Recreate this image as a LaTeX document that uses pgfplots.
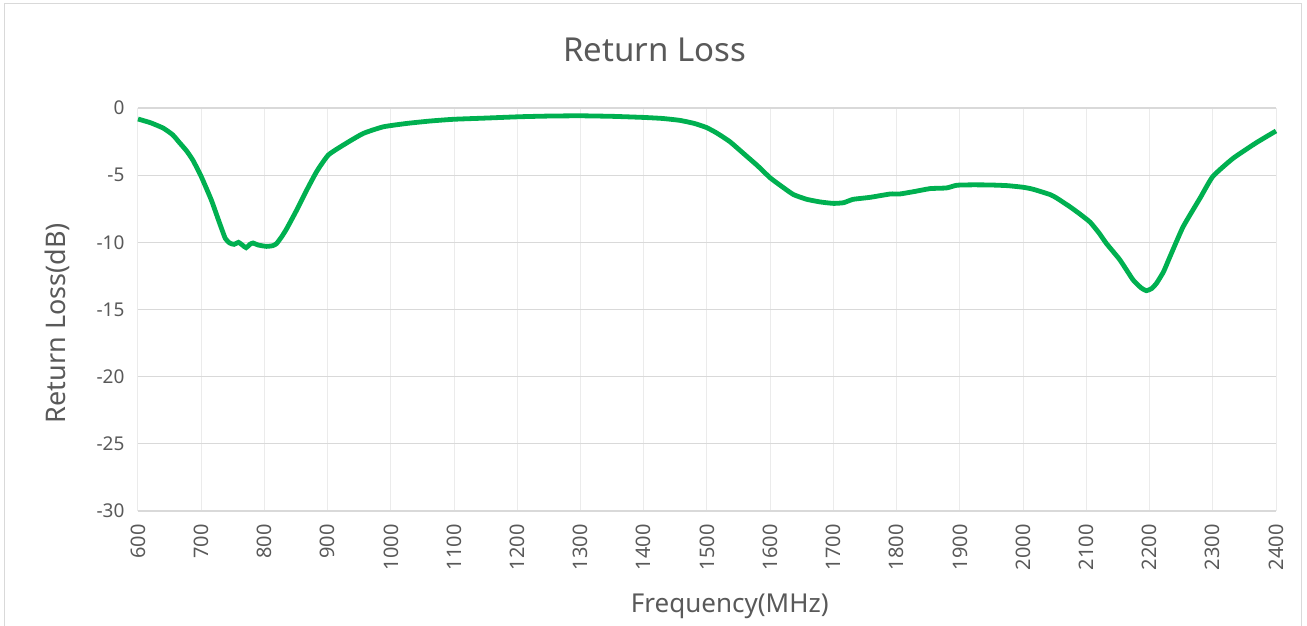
\documentclass[border=0pt]{standalone}
\usepackage{pgfplots}
\pgfplotsset{compat=1.18}
\usepackage{fontspec}
\setmainfont{Noto Sans}
\definecolor{txt}{HTML}{595959}
\definecolor{hgrid}{HTML}{D9D9D9}
\definecolor{vgrid}{HTML}{EBEBEB}
\definecolor{lgreen}{HTML}{00B050}
\begin{document}
\begin{tikzpicture}[x=1pt,y=1pt]
\useasboundingbox (-138,-114) rectangle (1169,511);
\draw[hgrid,line width=1pt] (-133,-130) rectangle (1163,507);
\begin{axis}[
  scale only axis,
  width=1138pt, height=403pt,
  xmin=600, xmax=2400, ymin=-30, ymax=0,
  axis line style={draw=none},
  tick style={draw=none},
  xtick={600,700,...,2400},
  xticklabels={600,700,800,900,1000,1100,1200,1300,1400,1500,1600,1700,1800,1900,2000,2100,2200,2300,2400},
  ytick={-30,-25,-20,-15,-10,-5,0},
  yticklabels={-30,-25,-20,-15,-10,-5,0},
  grid=major,
  x grid style={vgrid,line width=1pt},
  y grid style={hgrid,line width=1.2pt},
  xticklabel shift=10pt,
  xticklabel style={rotate=90,anchor=east,font=\fontsize{20}{20}\selectfont,text=txt},
  yticklabel style={font=\fontsize{19}{19}\selectfont,text=txt,xshift=-10pt},
  clip=false,
]
\addplot[lgreen,line width=4.8pt,smooth,tension=0.3] coordinates {
(600,-0.82) (620,-1.1) (640,-1.5) (655,-2.0) (666,-2.6) (677,-3.2) (687,-3.9)
(700,-5.1) (716,-6.85) (727,-8.3) (738,-9.7) (745,-10.05) (752,-10.15) (759,-10.0)
(765,-10.2) (771,-10.4) (777,-10.15) (782,-10.05) (790,-10.2) (803,-10.3) (813,-10.25)
(819,-10.1) (827,-9.6) (835,-9.0) (851,-7.6) (867,-6.1) (883,-4.7) (901,-3.5)
(925,-2.75) (956,-1.9) (988,-1.4) (1025,-1.15) (1062,-0.97) (1099,-0.84) (1150,-0.75)
(1204,-0.65) (1250,-0.6) (1299,-0.58) (1350,-0.62) (1399,-0.7) (1430,-0.78) (1457,-0.92)
(1480,-1.15) (1499,-1.45) (1515,-1.85) (1536,-2.5) (1563,-3.6) (1580,-4.3) (1600,-5.2)
(1620,-5.9) (1637,-6.45) (1658,-6.8) (1680,-7.0) (1700,-7.1) (1716,-7.05) (1731,-6.8)
(1758,-6.65) (1790,-6.4) (1805,-6.4) (1830,-6.2) (1853,-6.0) (1879,-5.95) (1895,-5.75)
(1920,-5.72) (1948,-5.73) (1975,-5.78) (2000,-5.9) (2016,-6.05) (2043,-6.45) (2053,-6.7)
(2074,-7.35) (2090,-7.9) (2106,-8.5) (2120,-9.3) (2132,-10.1) (2153,-11.3) (2174,-12.8)
(2187,-13.4) (2195,-13.6) (2203,-13.45) (2211,-13.05) (2222,-12.2) (2232,-11.1)
(2253,-8.85) (2280,-6.7) (2300,-5.1) (2332,-3.75) (2369,-2.58) (2400,-1.71)
};
\node[text=txt,font=\fontsize{33}{33}\selectfont] at (rel axis cs:0.454,1.144) {Return Loss};
\node[text=txt,font=\fontsize{26}{26}\selectfont] at (rel axis cs:0.52,-0.236) {Frequency(MHz)};
\node[text=txt,font=\fontsize{27}{27}\selectfont,rotate=90] at (rel axis cs:-0.071,0.466) {Return Loss(dB)};
\end{axis}
\end{tikzpicture}
\end{document}
